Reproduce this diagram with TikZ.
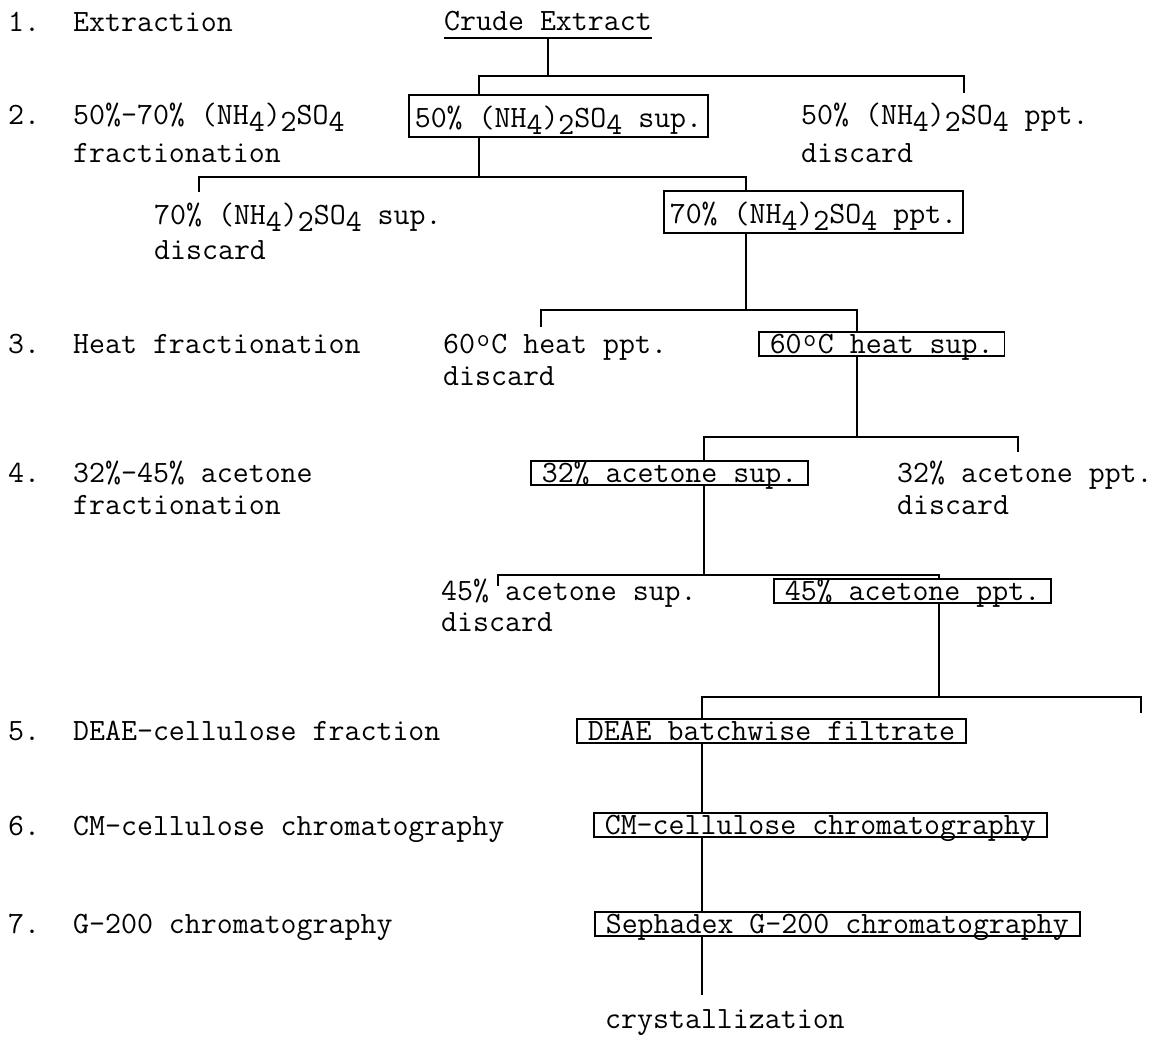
\documentclass[tikz,border=0pt]{standalone}
\usepackage{fontspec}
\newcommand\sbs[1]{\raisebox{-7pt}{#1}}
\newcommand\amsul{(NH\sbs{4})\sbs{2}SO\sbs{4}}
\newcommand\dgr{\makebox[16.27pt]{\raisebox{7pt}{\fontsize{25pt}{25pt}\selectfont o}}}
\begin{document}
\begin{tikzpicture}[x=1pt,y=-1pt,
  every node/.style={font=\fontsize{31pt}{33pt}\selectfont\ttfamily},
  txt/.style={inner sep=0pt, anchor=base west},
  tallbox/.style={draw, line width=1.6pt, anchor=base west, inner xsep=6pt, inner ysep=3pt, text height=29pt, text depth=7pt},
  brbox/.style={draw, line width=1.6pt, anchor=base west, inner xsep=11pt, inner ysep=2pt, text height=19pt, text depth=1pt},
  ln/.style={line width=1.6pt}]
\fill[white] (0,0) rectangle (1158,1036);
\useasboundingbox (0,0) rectangle (1158,1036);

% left column
\node[txt] (n1) at (8,31) {1.};
\node[txt] (l1) at (73,31) {Extraction};
\node[txt] (n2) at (8,124) {2.};
\node[txt] (l2a) at (73,124) {50\%-70\% \amsul};
\node[txt] (l2b) at (73,162) {fractionation};
\node[txt] (n3) at (8,353) {3.};
\node[txt] (l3) at (73,353) {Heat fractionation};
\node[txt] (n4) at (8,482) {4.};
\node[txt] (l4a) at (73,482) {32\%-45\% acetone};
\node[txt] (l4b) at (73,514) {fractionation};
\node[txt] (n5) at (8,740) {5.};
\node[txt] (l5) at (73,740) {DEAE-cellulose fraction};
\node[txt] (n6) at (8,835) {6.};
\node[txt] (l6) at (73,835) {CM-cellulose chromatography};
\node[txt] (n7) at (8,933) {7.};
\node[txt] (l7) at (73,933) {G-200 chromatography};

% tree texts
\node[inner sep=0pt, anchor=base, text depth=8pt] (ce) at (548,30) {Crude Extract};
\draw[ln] (ce.south west) -- (ce.south east);
\node[tallbox] (b1) at (408,127) {50\% \amsul{} sup.};
\node[txt] (p1) at (801,124) {50\% \amsul{} ppt.};
\node[txt] (p1d) at (801,162) {discard};
\node[txt] (s2) at (154,224) {70\% \amsul{} sup.};
\node[txt] (s2d) at (154,259) {discard};
\node[tallbox] (b2) at (663,223) {70\% \amsul{} ppt.};
\node[txt] (p3) at (443,353) {60\dgr C heat ppt.};
\node[txt] (p3d) at (443,385) {discard};
\node[brbox] (b3) at (758,353) {60\dgr C heat sup.};
\node[brbox] (b4) at (530,482) {32\% acetone sup.};
\node[txt] (p4) at (897,482) {32\% acetone ppt.};
\node[txt] (p4d) at (897,514) {discard};
\node[txt] (s5) at (441,600) {45\% acetone sup.};
\node[txt] (s5d) at (441,631) {discard};
\node[brbox] (b5) at (773,600) {45\% acetone ppt.};
\node[brbox] (b6) at (576,740) {DEAE batchwise filtrate};
\node[brbox] (b7) at (593,834) {CM-cellulose chromatography};
\node[brbox] (b8) at (594,933) {Sephadex G-200 chromatography};
\node[txt] (cr) at (605,1028) {crystallization};

% junction coordinates
\coordinate (h1l) at (479,76);  \coordinate (h1r) at (964,76);  \coordinate (h1e) at (964,93);
\coordinate (h2l) at (199,177); \coordinate (h2le) at (199,192); \coordinate (h2r) at (746,177);
\coordinate (h3l) at (541,310); \coordinate (h3le) at (541,327); \coordinate (h3r) at (857,310);
\coordinate (h4l) at (704,437); \coordinate (h4r) at (1018,437); \coordinate (h4re) at (1018,452);
\coordinate (h5l) at (498,575); \coordinate (h5le) at (498,586); \coordinate (h5r) at (939,575);
\coordinate (h6l) at (702,697); \coordinate (h6r) at (1141,697); \coordinate (h6re) at (1141,713);
\coordinate (endv) at (702,995);

% connectors
\draw[ln] (ce.south) -- (ce.south |- h1l);
\draw[ln] (b1.north -| h1l) -- (h1l) -- (h1r) -- (h1e);
\draw[ln] (b1.south -| h1l) -- (h1l |- h2l);
\draw[ln] (h2le) -- (h2l) -- (h2r) -- (b2.north -| h2r);
\draw[ln] (b2.south -| h2r) -- (h2r |- h3l);
\draw[ln] (h3le) -- (h3l) -- (h3r) -- (b3.north -| h3r);
\draw[ln] (b3.south -| h3r) -- (h3r |- h4l);
\draw[ln] (b4.north -| h4l) -- (h4l) -- (h4r) -- (h4re);
\draw[ln] (b4.south -| h4l) -- (h4l |- h5l);
\draw[ln] (h5le) -- (h5l) -- (h5r) -- (b5.north -| h5r);
\draw[ln] (b5.south -| h5r) -- (h5r |- h6l);
\draw[ln] (b6.north -| h6l) -- (h6l) -- (h6r) -- (h6re);
\draw[ln] (b6.south -| h6l) -- (b7.north -| h6l);
\draw[ln] (b7.south -| h6l) -- (b8.north -| h6l);
\draw[ln] (b8.south -| h6l) -- (endv);
\end{tikzpicture}
\end{document}
